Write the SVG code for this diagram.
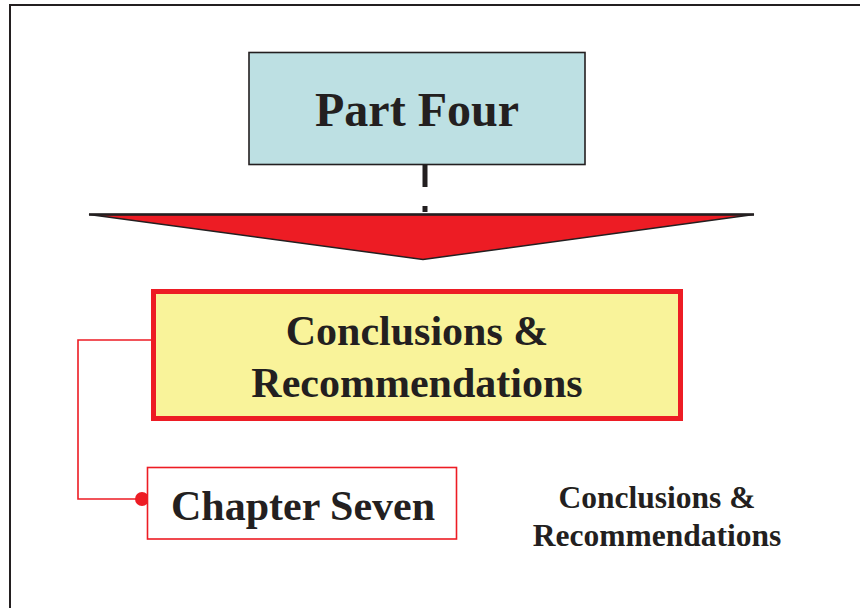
<svg xmlns="http://www.w3.org/2000/svg" width="860" height="608" viewBox="0 0 860 608">
  <style>
    .t { font-family: "Liberation Serif", "Times New Roman", serif; font-weight: bold; fill: #231f20; text-anchor: middle; }
  </style>
  <rect width="860" height="608" fill="#ffffff"/>
  <!-- page frame -->
  <path d="M10,608 V5 H860" fill="none" stroke="#231f20" stroke-width="2"/>

  <g id="connectors">
    <!-- dashed drop from Part Four into the arrow -->
    <line x1="425" y1="165" x2="425" y2="187" stroke="#231f20" stroke-width="5"/>
    <line x1="425" y1="206" x2="425" y2="212" stroke="#231f20" stroke-width="5"/>
    <!-- elbow link from the section box to the chapter box -->
    <polyline points="151,340 78,340 78,499 142,499" fill="none" stroke="#ed1c24" stroke-width="1.6"/>
    <circle cx="142" cy="499" r="7" fill="#ed1c24"/>
  </g>

  <g id="part-four">
    <rect x="249" y="52.5" width="336" height="112" fill="#bde0e3" stroke="#231f20" stroke-width="1.6"/>
    <text class="t" x="417" y="126" font-size="48">Part Four</text>
  </g>

  <g id="arrow">
    <polygon points="89,214.5 754,214.5 423,259.5" fill="#ed1c24" stroke="#231f20" stroke-width="1.5" stroke-linejoin="miter"/>
    <line x1="89" y1="214.5" x2="754" y2="214.5" stroke="#231f20" stroke-width="2.5"/>
  </g>

  <g id="conclusions">
    <rect x="153.5" y="291.5" width="527" height="127" fill="#f9f39a" stroke="#ed1c24" stroke-width="5"/>
    <text class="t" x="417" y="345" font-size="42">Conclusions &amp;</text>
    <text class="t" x="417" y="397" font-size="42">Recommendations</text>
  </g>

  <g id="chapter-seven">
    <rect x="147.5" y="467.5" width="309" height="71.5" fill="#ffffff" stroke="#ed1c24" stroke-width="1.6"/>
    <text class="t" x="303" y="520" font-size="42">Chapter Seven</text>
  </g>

  <g id="chapter-title">
    <text class="t" x="657" y="508" font-size="31.5">Conclusions &amp;</text>
    <text class="t" x="657" y="546" font-size="31.5">Recommendations</text>
  </g>
</svg>
